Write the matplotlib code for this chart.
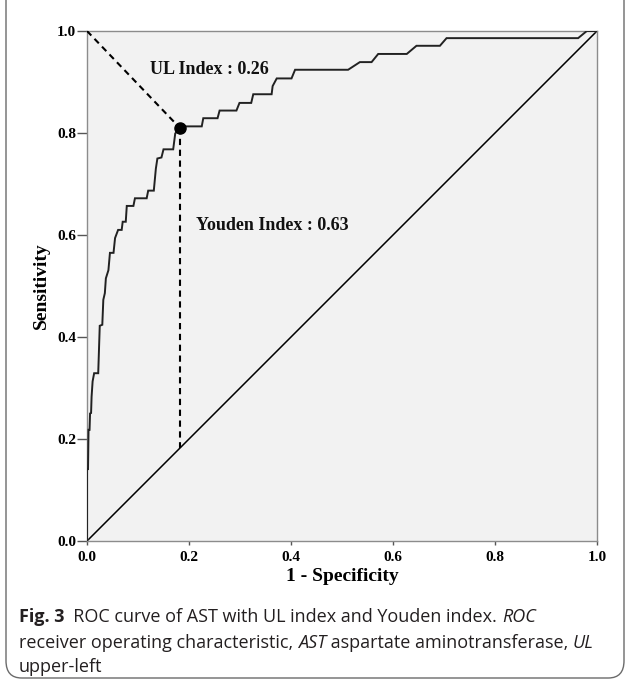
import matplotlib
matplotlib.use("Agg")
import matplotlib.pyplot as plt
from matplotlib.patches import FancyBboxPatch

# ---- data ----
fpr = [0.000, 0.000, 0.002, 0.003, 0.005, 0.006, 0.008, 0.009, 0.011, 0.014, 0.022,
       0.024, 0.025, 0.030, 0.032, 0.035, 0.037, 0.042, 0.045, 0.052, 0.055, 0.061,
       0.068, 0.070, 0.076, 0.078, 0.091, 0.094, 0.117, 0.120, 0.131, 0.135, 0.138,
       0.146, 0.150, 0.169, 0.173, 0.182, 0.192, 0.225, 0.228, 0.256, 0.260, 0.293,
       0.299, 0.322, 0.326, 0.362, 0.364, 0.372, 0.401, 0.408, 0.512, 0.535, 0.558,
       0.571, 0.627, 0.646, 0.692, 0.705, 0.963, 0.980, 1.000]
tpr = [0.000, 0.141, 0.141, 0.218, 0.218, 0.250, 0.251, 0.283, 0.313, 0.329, 0.329,
       0.391, 0.422, 0.424, 0.473, 0.486, 0.515, 0.531, 0.565, 0.565, 0.594, 0.610,
       0.610, 0.626, 0.626, 0.657, 0.657, 0.672, 0.672, 0.687, 0.687, 0.730, 0.750,
       0.752, 0.768, 0.768, 0.799, 0.810, 0.813, 0.813, 0.829, 0.829, 0.844, 0.844,
       0.859, 0.859, 0.876, 0.876, 0.892, 0.907, 0.907, 0.924, 0.924, 0.939, 0.939,
       0.955, 0.955, 0.971, 0.971, 0.986, 0.986, 1.000, 1.000]
opt_fpr = 0.182
opt_tpr = 0.810
ul_label = "UL Index : 0.26"
youden_label = "Youden Index : 0.63"
ticks = [0.0, 0.2, 0.4, 0.6, 0.8, 1.0]
tick_labels = ["0.0", "0.2", "0.4", "0.6", "0.8", "1.0"]
xlabel = "1 - Specificity"
ylabel = "Sensitivity"
caption = [
    [("Fig. 3", "bold", "normal"), ("  ROC curve of AST with UL index and Youden index. ", "normal", "normal"),
     ("ROC", "normal", "italic")],
    [("receiver operating characteristic, ", "normal", "normal"), ("AST", "normal", "italic"),
     (" aspartate aminotransferase, ", "normal", "normal"), ("UL", "normal", "italic")],
    [("upper-left", "normal", "normal")],
]

W, H = 627, 688
fig = plt.figure(figsize=(W / 100, H / 100), dpi=100)
fig.patch.set_facecolor("white")

# outer rounded frame
frame = FancyBboxPatch((6 / W, 10 / H), (624 - 6) / W, (H + 20 - 10) / H,
                       boxstyle="round,pad=0,rounding_size=0.025",
                       transform=fig.transFigure, facecolor="none",
                       edgecolor="#6b6b6b", linewidth=1.0, clip_on=False)
fig.patches.append(frame)

ax = fig.add_axes([87 / W, (H - 541) / H, 510 / W, 510 / H])
ax.set_facecolor("#f2f2f2")
serif = ["Liberation Serif", "DejaVu Serif"]

ax.plot([0, 1], [0, 1], color="black", linewidth=1.1, zorder=2)
ax.plot(fpr, tpr, color="#222222", linewidth=1.4, zorder=3, solid_joinstyle="miter")
ax.plot([0, opt_fpr], [1, opt_tpr], color="black", linewidth=1.5, linestyle=(0, (3, 2.2)), zorder=3)
ax.plot([opt_fpr, opt_fpr], [opt_tpr, opt_fpr], color="black", linewidth=1.5,
        linestyle=(0, (3, 2.2)), zorder=3)
ax.plot([opt_fpr], [opt_tpr], marker="o", markersize=8, color="black", zorder=4)

ax.text(0.124, 0.924, ul_label, fontfamily=serif, fontweight="bold", fontsize=13,
        ha="left", va="center", color="#111111")
ax.text(0.214, 0.618, youden_label, fontfamily=serif, fontweight="bold", fontsize=13,
        ha="left", va="center", color="#111111")

ax.set_xlim(0, 1)
ax.set_ylim(0, 1)
ax.set_xticks(ticks)
ax.set_yticks(ticks)
ax.set_xticklabels(tick_labels, fontfamily=serif, fontweight="bold", fontsize=11)
ax.set_yticklabels(tick_labels, fontfamily=serif, fontweight="bold", fontsize=11)
ax.tick_params(axis="y", direction="out", length=7, width=1, color="#555555", pad=1)
ax.tick_params(axis="x", direction="out", length=3, width=1, color="#555555", pad=4)
for s in ax.spines.values():
    s.set_color("#8c8c8c")
    s.set_linewidth(1.0)
ax.set_xlabel(xlabel, fontfamily=serif, fontweight="bold", fontsize=14, labelpad=3)
ax.set_ylabel(ylabel, fontfamily=serif, fontweight="bold", fontsize=14, labelpad=5)

# caption, fitted to the reference line width
renderer = fig.canvas.get_renderer()
cap_font = ["Open Sans", "DejaVu Sans"]


def run_width(txt, weight, style, size):
    t1 = fig.text(0, 0, "|" + txt + "|", fontfamily=cap_font, fontweight=weight,
                  fontstyle=style, fontsize=size)
    t2 = fig.text(0, 0, "||", fontfamily=cap_font, fontweight=weight,
                  fontstyle=style, fontsize=size)
    w = t1.get_window_extent(renderer).width - t2.get_window_extent(renderer).width
    t1.remove()
    t2.remove()
    return w


base = 11.0
w_line = sum(run_width(t, wt, st, base) for t, wt, st in caption[1])
cap_size = base * (597 - 19) / w_line

x_start = 19
line_y = [617, 643, 667]
for line, yy in zip(caption, line_y):
    x = x_start
    for t, wt, st in line:
        fig.text(x / W, 1 - yy / H, t, fontfamily=cap_font, fontweight=wt, fontstyle=st,
                 fontsize=cap_size, color="#231f20", ha="left", va="center")
        x += run_width(t, wt, st, cap_size)

fig.savefig("out.png", dpi=100)
